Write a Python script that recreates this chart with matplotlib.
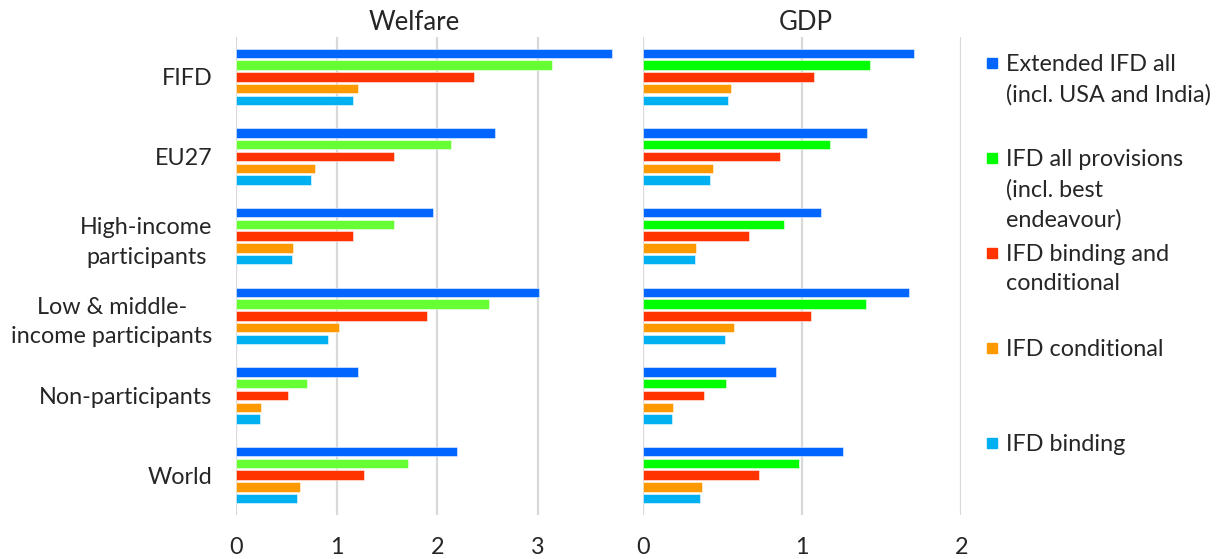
import matplotlib
matplotlib.use("Agg")
import matplotlib.pyplot as plt
import numpy as np
from matplotlib.patches import Rectangle

plt.rcParams['font.family'] = ['Lato', 'DejaVu Sans']

categories = ["FIFD", "EU27", "High-income\nparticipants",
              "Low & middle-\nincome participants", "Non-participants", "World"]
series = ["Extended IFD all\n(incl. USA and India)",
          "IFD all provisions\n(incl. best\nendeavour)",
          "IFD binding and\nconditional",
          "IFD conditional",
          "IFD binding"]

welfare_extended = [3.74, 2.57, 1.96, 3.01, 1.21, 2.20]
welfare_all = [3.14, 2.14, 1.57, 2.51, 0.705, 1.71]
welfare_bind_cond = [2.37, 1.57, 1.16, 1.90, 0.52, 1.27]
welfare_cond = [1.21, 0.785, 0.57, 1.02, 0.25, 0.636]
welfare_bind = [1.16, 0.745, 0.56, 0.915, 0.24, 0.606]

gdp_extended = [1.705, 1.405, 1.118, 1.669, 0.837, 1.256]
gdp_all = [1.426, 1.174, 0.887, 1.399, 0.518, 0.979]
gdp_bind_cond = [1.075, 0.862, 0.663, 1.055, 0.38, 0.73]
gdp_cond = [0.55, 0.436, 0.331, 0.568, 0.185, 0.367]
gdp_bind = [0.53, 0.418, 0.323, 0.512, 0.18, 0.355]

welfare_colors = ["#0066FF", "#66FF33", "#FF3300", "#FF9900", "#00B0F0"]
gdp_colors = ["#0066FF", "#00FF00", "#FF3300", "#FF9900", "#00B0F0"]
legend_colors = ["#0066FF", "#00FF00", "#FF3300", "#FF9900", "#00B0F0"]

W, H = 1221, 559
fig = plt.figure(figsize=(W / 100, H / 100), dpi=100)

def px_axes(x0, x1, y0, y1):
    return fig.add_axes([x0 / W, 1 - y1 / H, (x1 - x0) / W, (y1 - y0) / H])

ax1 = px_axes(236, 638.4, 37, 515)
ax2 = px_axes(643.3, 961.3, 37, 515)

txt = "#262626"
grid_c = "#D9D9D9"
step = 0.147
bh = 0.118
y = np.arange(len(categories))
FS = 16.8
LS = 1.5

def draw(ax, data, colors, xmax, ticks):
    for i, (vals, c) in enumerate(zip(data, colors)):
        ax.barh(y + (i - 2) * step, vals, height=bh, color=c,
                edgecolor=(1, 1, 1, 0.6), linewidth=0.6, zorder=3)
    ax.set_xlim(0, xmax)
    ax.set_ylim(5.5, -0.5)
    ax.set_xticks(ticks)
    ax.set_xticklabels([str(t) for t in ticks])
    for t in ticks:
        ax.axvline(t, color=grid_c, lw=1.6, zorder=1)
    for s in ax.spines.values():
        s.set_visible(False)
    ax.tick_params(axis='x', length=0, pad=16, labelsize=FS, labelcolor=txt)
    ax.tick_params(axis='y', length=0)

draw(ax1, [welfare_extended, welfare_all, welfare_bind_cond, welfare_cond, welfare_bind],
     welfare_colors, 4.0, [0, 1, 2, 3])
draw(ax2, [gdp_extended, gdp_all, gdp_bind_cond, gdp_cond, gdp_bind],
     gdp_colors, 2.0, [0, 1, 2])

ax1.set_yticks(y)
ax1.set_yticklabels(categories, fontsize=FS, color=txt, multialignment='center',
                    linespacing=LS)
ax1.tick_params(axis='y', pad=17)
ax2.set_yticks([])

fig.text(414 / W, 1 - 22 / H, "Welfare", ha='center', va='center', fontsize=18.5, color=txt)
fig.text(806 / W, 1 - 22 / H, "GDP", ha='center', va='center', fontsize=18.5, color=txt)

# legend
centers = [63, 158, 253, 348, 443]
for lab, c, yc in zip(series, legend_colors, centers):
    fig.patches.append(Rectangle((987 / W, 1 - (yc + 5) / H), 10 / W, 10 / H,
                                 transform=fig.transFigure, color=c, figure=fig))
    fig.text(1006 / W, 1 - (yc - 9) / H, lab, ha='left', va='top',
             fontsize=FS, color=txt, linespacing=LS)

fig.savefig("out.png", dpi=100)
